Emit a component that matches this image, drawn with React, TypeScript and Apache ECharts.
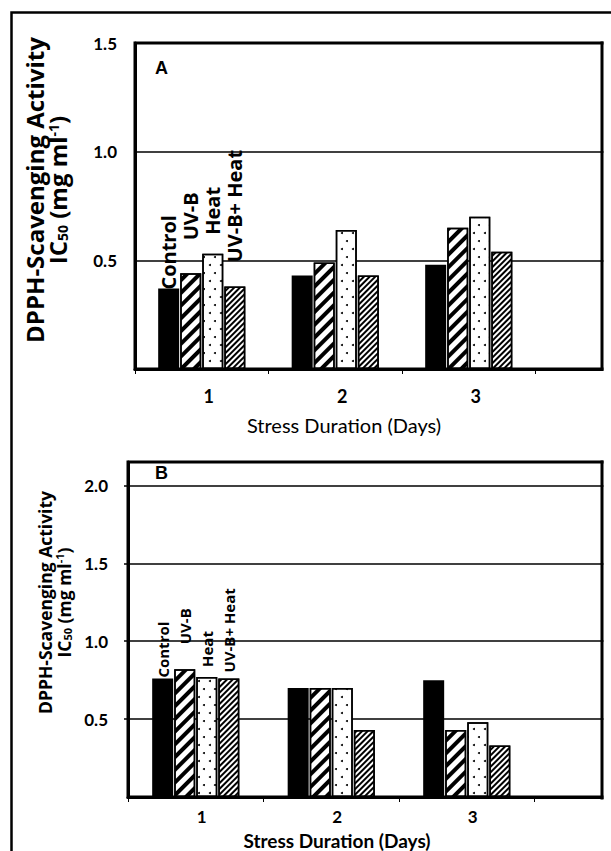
import React, { useEffect, useRef } from 'react';
import * as echarts from 'echarts';

// ---- data ----
const days = ['1', '2', '3', ''];
const treatmentNames = ['Control', 'UV-B', 'Heat', 'UV-B+ Heat'];

// Panel A : IC50 (mg/ml)
const panelAControl = [0.37, 0.43, 0.48];
const panelAUVB = [0.44, 0.49, 0.65];
const panelAHeat = [0.53, 0.64, 0.70];
const panelAUVBHeat = [0.38, 0.43, 0.54];

// Panel B : IC50 (mg/ml)
const panelBControl = [0.76, 0.70, 0.75];
const panelBUVB = [0.82, 0.70, 0.43];
const panelBHeat = [0.77, 0.70, 0.48];
const panelBUVBHeat = [0.76, 0.43, 0.33];

const yMaxA = 1.5;
const yMaxB = 2.15;
const yInterval = 0.5;

const BOLD = 'bold';
const OPEN = 'Open Sans';
const LATO = 'Lato';

const decals: any[] = [
  null,
  { symbol: 'rect', symbolSize: 1, dashArrayX: [1, 0], dashArrayY: [4, 5], rotation: -Math.PI / 4, color: '#000', backgroundColor: '#fff' },
  { symbol: 'circle', symbolSize: 1, dashArrayX: [[2, 9], [0, 5, 2, 4]], dashArrayY: [2, 6], color: '#000', backgroundColor: '#fff' },
  { symbol: 'rect', symbolSize: 1, dashArrayX: [1, 0], dashArrayY: [2, 2], rotation: -Math.PI / 4, color: '#000', backgroundColor: '#fff' },
];

function buildSeries(
  panel: number[][],
  axisIndex: number,
  fontSize: number,
  distances: number[],
  offsets: number[]
) {
  return panel.map((vals, i) => ({
    name: treatmentNames[i],
    type: 'bar',
    xAxisIndex: axisIndex,
    yAxisIndex: axisIndex,
    barWidth: 21,
    barGap: '5%',
    itemStyle: {
      color: i === 0 ? '#000' : '#fff',
      borderColor: '#000',
      borderWidth: i === 0 ? 0 : 1.5,
      decal: decals[i] || undefined,
    },
    label: {
      show: false,
      position: 'top',
      rotate: 90,
      align: 'left',
      verticalAlign: 'middle',
      formatter: '{a}',
      color: '#000',
      fontFamily: OPEN,
      fontWeight: BOLD,
      fontSize,
    },
    data: vals.map((v, j) =>
      j === 0
        ? { value: v, label: { show: true, distance: distances[i], offset: [offsets[i], 0] } }
        : v
    ),
  }));
}

function yName(size: number, sub: number, lh: number, pad: number[]) {
  const base = { fontFamily: OPEN, fontWeight: BOLD, color: '#000' };
  return {
    name: '{t|DPPH-Scavenging Activity}\n{t|IC}{sub|50}{t| (mg ml}{sup|-1}{t|)}',
    nameTextStyle: {
      ...base,
      fontSize: size,
      lineHeight: lh,
      padding: pad,
      rich: {
        t: { ...base, fontSize: size, lineHeight: lh },
        sub: { ...base, fontSize: sub, lineHeight: Math.round(sub * 0.7), verticalAlign: 'bottom' },
        sup: { ...base, fontSize: sub, lineHeight: Math.round(sub * 0.7), verticalAlign: 'top' },
      },
    },
  };
}

export default function App() {
  const ref = useRef<HTMLDivElement>(null);
  useEffect(() => {
    if (!ref.current) return;
    const chart = echarts.init(ref.current, undefined, { renderer: 'svg' });
    const option: any = {
      animation: false,
      backgroundColor: '#fff',
      grid: [
        { left: 135, top: 43, width: 534, height: 326, show: true, borderColor: '#000', borderWidth: 3, backgroundColor: 'transparent' },
        { left: 128, top: 462, width: 542, height: 336, show: true, borderColor: '#000', borderWidth: 3, backgroundColor: 'transparent' },
      ],
      xAxis: [
        {
          gridIndex: 0,
          type: 'category',
          data: days,
          axisLine: { lineStyle: { color: '#000', width: 3 } },
          axisTick: { show: true, length: 5, lineStyle: { color: '#000', width: 1 } },
          axisLabel: { color: '#000', fontFamily: LATO, fontWeight: BOLD, fontSize: 18, margin: 18, padding: [0, 0, 0, 14] },
          name: 'Stress Duration (Days)',
          nameLocation: 'middle',
          nameGap: 46,
          nameTextStyle: { color: '#000', fontFamily: LATO, fontSize: 20, padding: [0, 116, 0, 0] },
        },
        {
          gridIndex: 1,
          type: 'category',
          data: days,
          axisLine: { lineStyle: { color: '#000', width: 3 } },
          axisTick: { show: true, length: 5, lineStyle: { color: '#000', width: 1 } },
          axisLabel: { color: '#000', fontFamily: LATO, fontWeight: BOLD, fontSize: 17, margin: 11, padding: [0, 0, 0, 12] },
          name: 'Stress Duration (Days)',
          nameLocation: 'middle',
          nameGap: 34,
          nameTextStyle: { color: '#000', fontFamily: LATO, fontWeight: BOLD, fontSize: 19, padding: [0, 124, 0, 0] },
        },
      ],
      yAxis: [
        {
          gridIndex: 0,
          type: 'value',
          min: 0,
          max: yMaxA,
          interval: yInterval,
          axisLine: { show: true, lineStyle: { color: '#000', width: 3 } },
          axisTick: { show: false },
          splitLine: { lineStyle: { color: '#000', width: 1.5 } },
          axisLabel: {
            showMinLabel: false,
            color: '#000',
            fontFamily: LATO,
            fontWeight: BOLD,
            fontSize: 17,
            margin: 18,
            formatter: (v: number) => v.toFixed(1),
          },
          nameLocation: 'middle',
          nameRotate: 90,
          nameGap: 66,
          ...yName(24, 14, 23, [0, 0, 0, 32]),
        },
        {
          gridIndex: 1,
          type: 'value',
          min: 0,
          max: yMaxB,
          interval: yInterval,
          axisLine: { show: true, lineStyle: { color: '#000', width: 3 } },
          axisTick: { show: true, length: 4, lineStyle: { color: '#000', width: 1.5 } },
          splitLine: { lineStyle: { color: '#000', width: 1.5 } },
          axisLabel: {
            showMinLabel: false,
            showMaxLabel: false,
            color: '#000',
            fontFamily: LATO,
            fontWeight: BOLD,
            fontSize: 17,
            margin: 20,
            formatter: (v: number) => (Math.abs(v * 2 - Math.round(v * 2)) < 1e-6 ? v.toFixed(1) : ''),
          },
          nameLocation: 'middle',
          nameRotate: 90,
          nameGap: 53,
          ...yName(17.5, 11, 19, [0, 0, 0, 54]),
        },
      ],
      series: [
        ...buildSeries([panelAControl, panelAUVB, panelAHeat, panelAUVBHeat], 0, 20, [6, 37, 17, 20], [-7, -4, 2, 4]),
        ...buildSeries([panelBControl, panelBUVB, panelBHeat, panelBUVBHeat], 1, 15, [7, 27, 11, 4], [-6, -2, -1, 2]),
      ],
      graphic: [
        { type: 'polyline', z: 100, shape: { points: [[11.5, 900], [11.5, 12.5], [700, 12.5]] }, style: { stroke: '#000', lineWidth: 2.5, fill: null } },
        { type: 'rect', z: 100, shape: { x: 603.5, y: 36, width: 100, height: 345 }, style: { fill: '#fff' } },
        { type: 'rect', z: 100, shape: { x: 603.5, y: 455, width: 100, height: 352 }, style: { fill: '#fff' } },
        { type: 'line', z: 101, shape: { x1: 602, y1: 41.5, x2: 602, y2: 370.5 }, style: { stroke: '#000', lineWidth: 3 } },
        { type: 'line', z: 101, shape: { x1: 602, y1: 460.5, x2: 602, y2: 799.5 }, style: { stroke: '#000', lineWidth: 3 } },
        { type: 'text', z: 101, x: 155, y: 68, style: { text: 'A', fill: '#000', font: 'bold 18px "Liberation Sans"', textVerticalAlign: 'middle' } },
        { type: 'text', z: 101, x: 155, y: 473, style: { text: 'B', fill: '#000', font: 'bold 18px "Liberation Sans"', textVerticalAlign: 'middle' } },
      ],
    };
    chart.setOption(option);
    return () => chart.dispose();
  }, []);
  return (
    <div style={{ position: 'absolute', left: 0, top: 0, width: 611, height: 851, overflow: 'hidden', background: '#fff' }}>
      <div ref={ref} style={{ width: 700, height: 851 }} />
    </div>
  );
}
